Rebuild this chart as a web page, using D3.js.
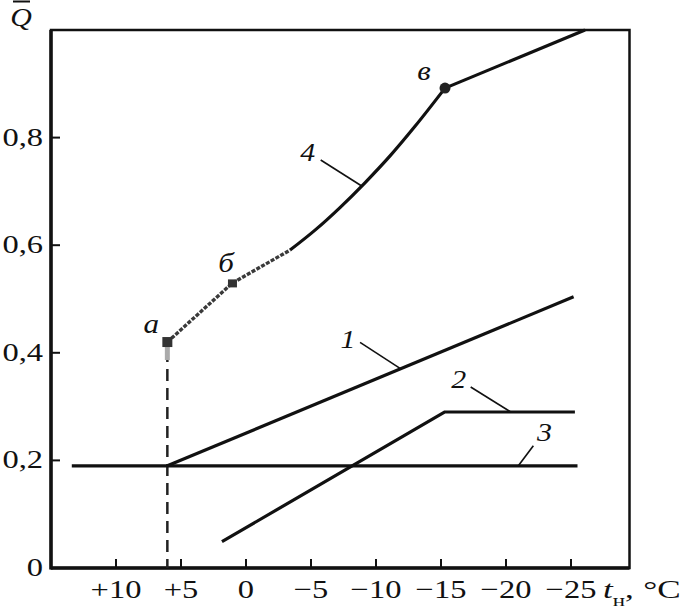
<html>
<head>
<meta charset="utf-8">
<title>Q - t</title>
<style>
  body { margin: 0; background: #fff; }
  text { font-family: "Liberation Serif", serif; fill: #111; }
</style>
<script src="https://cdn.jsdelivr.net/npm/d3@7"></script>
</head>
<body>
<script>
// x axis: outdoor temperature, y axis: relative load Q
var tempTicks = [10, 5, 0, -5, -10, -15, -20, -25];
var tempLabels = ["+10", "+5", "0", "\u22125", "\u221210", "\u221215", "\u221220", "\u221225"];
var qTicks = [0, 0.2, 0.4, 0.6, 0.8];
var qLabels = ["0", "0,2", "0,4", "0,6", "0,8"];

// curves (t, Q)
var line1T = [6.05, -25.2];
var line1Q = [0.19, 0.504];
var line2T = [1.85, -15.3, -25.3];
var line2Q = [0.049, 0.29, 0.29];
var line3T = [13.4, -25.5];
var line3Q = [0.19, 0.19];
var line4aT = [6.05, 1.08, -3.39];          // grey part a - б
var line4aQ = [0.42, 0.529, 0.591];
var line4bT = [-3.39, -5.31, -7.23, -9.15, -11.08, -13.0, -15.31];
var line4bQ = [0.591, 0.628, 0.670, 0.716, 0.766, 0.821, 0.892];
var line4cT = [-15.31, -26.08];
var line4cQ = [0.892, 1.0];

var pointNames = ["a", "\u0431", "\u0432"];
var pointT = [6.05, 1.08, -15.31];
var pointQ = [0.42, 0.529, 0.892];

var curveNames = ["1", "2", "3", "4"];
var curveAnchorT = [-11.85, -20.36, -20.95, -8.9];
var curveAnchorQ = [0.371, 0.29, 0.19, 0.71];

var width = 695, height = 609;
var svg = d3.select("body").append("svg")
    .attr("width", width)
    .attr("height", height);

var x = d3.scaleLinear().domain([15, -29.5]).range([51, 629.5]);
var y = d3.scaleLinear().domain([0, 1]).range([568, 30]);

var zip = (ts, qs) => ts.map((t, i) => [t, qs[i]]);
var line = d3.line().x(d => x(d[0])).y(d => y(d[1]));
var smooth = d3.line().x(d => x(d[0])).y(d => y(d[1])).curve(d3.curveMonotoneX);

// stretched serif text, like the scanned original
function label(px, py, str, opts) {
    opts = opts || {};
    var g = svg.append("g")
        .attr("transform", "translate(" + px + "," + py + ") scale(" + (opts.sx || 1.25) + ",1)");
    return g.append("text")
        .attr("text-anchor", opts.anchor || "middle")
        .attr("font-size", opts.size || 26)
        .attr("font-style", opts.italic ? "italic" : null)
        .text(str);
}

// frame
svg.append("rect")
    .attr("x", x(15)).attr("y", y(1))
    .attr("width", x(-29.5) - x(15)).attr("height", y(0) - y(1))
    .attr("fill", "none").attr("stroke", "#111").attr("stroke-width", 2.5);
svg.append("line")
    .attr("x1", x(15)).attr("x2", x(15)).attr("y1", y(1)).attr("y2", y(0) + 1.5)
    .attr("stroke", "#111").attr("stroke-width", 3.5);
svg.append("line")
    .attr("x1", x(15)).attr("x2", x(-29.5)).attr("y1", y(0)).attr("y2", y(0))
    .attr("stroke", "#111").attr("stroke-width", 3.5);

// ticks
svg.selectAll(".xt").data(tempTicks).enter().append("line")
    .attr("x1", d => x(d)).attr("x2", d => x(d))
    .attr("y1", y(0)).attr("y2", y(0) - 9)
    .attr("stroke", "#111").attr("stroke-width", 2);
svg.selectAll(".yt").data(qTicks.slice(1)).enter().append("line")
    .attr("x1", x(15)).attr("x2", x(15) + 9)
    .attr("y1", d => y(d)).attr("y2", d => y(d))
    .attr("stroke", "#111").attr("stroke-width", 2);

tempTicks.forEach((t, i) => label(x(t), 598, tempLabels[i]));
qTicks.forEach((q, i) => label(43, y(q) + 8, qLabels[i], { anchor: "end" }));

// axis titles
label(21, 26, "Q", { italic: true, sx: 1.15 });
svg.append("line").attr("x1", 13).attr("x2", 30).attr("y1", 1.5).attr("y2", 1.5)
    .attr("stroke", "#111").attr("stroke-width", 2);
var tt = label(603, 598, "", { anchor: "start", sx: 1.35 });
tt.append("tspan").attr("font-style", "italic").text("t");
tt.append("tspan").attr("font-size", 17).attr("dy", 8).text("\u043d");
tt.append("tspan").attr("dy", -8).text(",");
tt.append("tspan").attr("dx", 7).text("\u00b0C");

// dashed drop line from point a
svg.append("line")
    .attr("x1", x(pointT[0])).attr("x2", x(pointT[0]))
    .attr("y1", y(pointQ[0]) + 8).attr("y2", y(0))
    .attr("stroke", "#222").attr("stroke-width", 2.5)
    .attr("stroke-dasharray", "12,7");
svg.append("line")
    .attr("x1", x(pointT[0])).attr("x2", x(pointT[0]))
    .attr("y1", y(pointQ[0]) + 4).attr("y2", y(pointQ[0]) + 18)
    .attr("stroke", "#aaa").attr("stroke-width", 5);

// curves 1-3
[[line1T, line1Q], [line2T, line2Q], [line3T, line3Q]].forEach(c => {
    svg.append("path").attr("d", line(zip(c[0], c[1])))
        .attr("fill", "none").attr("stroke", "#111").attr("stroke-width", 3.2)
        .attr("stroke-linejoin", "round");
});

// curve 4
svg.append("path").attr("d", line(zip(line4aT, line4aQ)))
    .attr("fill", "none").attr("stroke", "#3a3a3a").attr("stroke-width", 3.4)
    .attr("stroke-dasharray", "4,1.5");
svg.append("path").attr("d", smooth(zip(line4bT, line4bQ)))
    .attr("fill", "none").attr("stroke", "#111").attr("stroke-width", 3.2);
svg.append("path").attr("d", line(zip(line4cT, line4cQ)))
    .attr("fill", "none").attr("stroke", "#111").attr("stroke-width", 3.2);

// marked points
svg.append("rect").attr("x", x(pointT[0]) - 5).attr("y", y(pointQ[0]) - 5)
    .attr("width", 10).attr("height", 10).attr("fill", "#333");
svg.append("rect").attr("x", x(pointT[1]) - 4).attr("y", y(pointQ[1]) - 4)
    .attr("width", 9).attr("height", 8).attr("fill", "#333");
svg.append("circle").attr("cx", x(pointT[2])).attr("cy", y(pointQ[2])).attr("r", 5.5)
    .attr("fill", "#222");

var pointOff = [[-16, -9], [-6, -11], [-21, -8]];
pointNames.forEach((n, i) => label(x(pointT[i]) + pointOff[i][0], y(pointQ[i]) + pointOff[i][1], n,
    { italic: true, size: 27, sx: 1.15 }));

// curve numbers with leaders
var leadOff = [[-40, -26], [-40, -25], [15, -20], [-41, -26]];
var nameOff = [[-52, -20], [-52, -24], [26, -25], [-54, -25]];
curveNames.forEach((n, i) => {
    var ax = x(curveAnchorT[i]), ay = y(curveAnchorQ[i]);
    svg.append("line")
        .attr("x1", ax).attr("y1", ay)
        .attr("x2", ax + leadOff[i][0]).attr("y2", ay + leadOff[i][1])
        .attr("stroke", "#111").attr("stroke-width", 1.6);
    label(ax + nameOff[i][0], ay + nameOff[i][1], n, { italic: true, size: 26, sx: 1.15 });
});
</script>
</body>
</html>
